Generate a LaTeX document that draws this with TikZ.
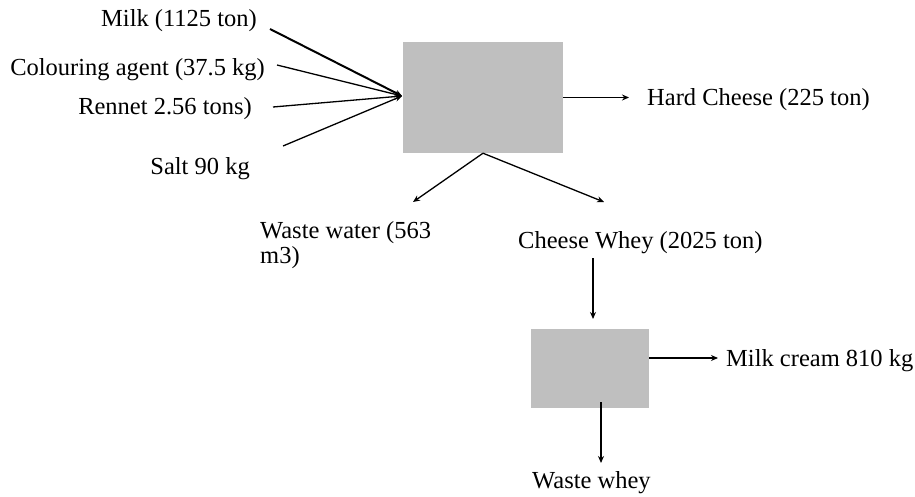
\documentclass[tikz,border=0pt]{standalone}
\usepackage{fontspec}
\setmainfont{Liberation Serif}
\usetikzlibrary{arrows.meta}
\definecolor{boxgray}{HTML}{BFBFBF}
\begin{document}
\begin{tikzpicture}[x=1pt,y=-1pt,
  flow/.style={line width=1.3pt,-{Stealth[length=7pt,width=6pt]}},
  unit/.style={fill=boxgray,draw=none,inner sep=0pt},
  lbl/.style={font=\fontsize{24.5}{27}\selectfont,inner sep=0pt}]
\useasboundingbox (0,0) rectangle (915,497);

% process units
\node[unit,minimum width=160pt,minimum height=111pt] (press) at (483,97.5) {};
\node[unit,minimum width=118pt,minimum height=79pt] (sep) at (590,368.5) {};

% input labels
\node[lbl,anchor=base east] (milk) at (257,27) {Milk (1125 ton)};
\node[lbl,anchor=base east] (colour) at (265,76) {Colouring agent (37.5 kg)};
\node[lbl,anchor=base east] (rennet) at (252,115) {Rennet 2.56 tons)};
\node[lbl,anchor=base east] (salt) at (250,175) {Salt 90 kg};

% output labels
\node[lbl,anchor=base west] (hard) at (647,106) {Hard Cheese (225 ton)};
\node[lbl,anchor=base west] (ww) at (260,238) {Waste water (563};
\node[lbl,anchor=base west] (wwb) at (260,263) {m3)};
\node[lbl,anchor=base west] (whey) at (518,248) {Cheese Whey (2025 ton)};
\node[lbl,anchor=base west] (cream) at (726,366) {Milk cream 810 kg};
\node[lbl,anchor=base west] (wwhey) at (532,488) {Waste whey};

% connector end points
\coordinate (milkS) at (270,29);
\coordinate (colourS) at (277,65);
\coordinate (rennetS) at (273,107);
\coordinate (saltS) at (283,146);
\coordinate (feed) at (402,96);
\coordinate (hardE) at (629,97.5);
\coordinate (wwE) at (413,202);
\coordinate (wheyE) at (604,202);
\coordinate (wheyS) at (593,258);
\coordinate (sepIn) at (593,319);
\coordinate (creamS) at (649,358);
\coordinate (creamE) at (718,358);
\coordinate (wwheyS) at (601,402);
\coordinate (wwheyE) at (601,463);

% inputs to the cheese press
\draw[flow,line width=2pt] (milkS) -- (feed);
\draw[flow] (colourS) -- (feed);
\draw[flow] (rennetS) -- (feed);
\draw[flow] (saltS) -- (feed);

% outputs of the cheese press
\draw[flow] (press.east) -- (hardE);
\draw[flow] (press.south) -- (wwE);
\draw[flow] (press.south) -- (wheyE);

% whey separation
\draw[flow] (wheyS) -- (sepIn);
\draw[flow] (creamS) -- (creamE);
\draw[flow] (wwheyS) -- (wwheyE);
\end{tikzpicture}
\end{document}
